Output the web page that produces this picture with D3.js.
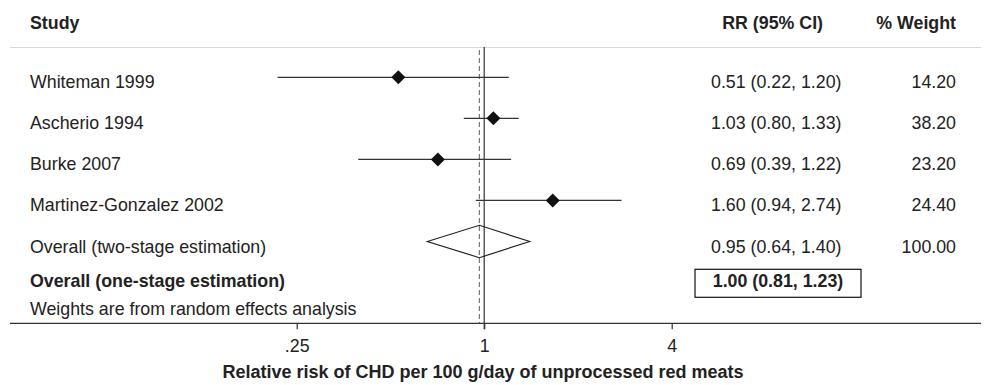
<!DOCTYPE html>
<html>
<head>
<meta charset="utf-8">
<script src="https://cdn.jsdelivr.net/npm/d3@7"></script>
<style>
  body { margin: 0; background: #fff; }
  svg text { font-family: "Liberation Sans", Arial, Helvetica, sans-serif; fill: #222; }
</style>
</head>
<body>
<svg id="chart"></svg>
<script>
const studies = ["Whiteman 1999", "Ascherio 1994", "Burke 2007", "Martinez-Gonzalez 2002"];
const rrText = ["0.51 (0.22, 1.20)", "1.03 (0.80, 1.33)", "0.69 (0.39, 1.22)", "1.60 (0.94, 2.74)"];
const weightText = ["14.20", "38.20", "23.20", "24.40"];
// plotted positions
const estimate = [0.53, 1.07, 0.71, 1.66];
const lower = [0.217, 0.86, 0.394, 0.94];
const upper = [1.20, 1.29, 1.22, 2.76];

const pooledLabel = "Overall (two-stage estimation)";
const pooledText = "0.95 (0.64, 1.40)";
const pooledWeight = "100.00";
const pooled = { est: 0.965, lo: 0.657, hi: 1.40 };

const oneStageLabel = "Overall (one-stage estimation)";
const oneStageText = "1.00 (0.81, 1.23)";

const tickValues = [0.25, 1, 4];
const tickLabels = [".25", "1", "4"];

const width = 984, height = 385;
const svg = d3.select("#chart").attr("width", width).attr("height", height);

const x = d3.scaleLog().base(2).domain([0.25, 4]).range([296.7, 671.7]);
const rows = studies.concat([pooledLabel]);
const y = d3.scalePoint().domain(rows).range([77.3, 241.5]);

const fs = "17.8px";
const axisY = 323.3;

// header
svg.append("text").attr("x", 30).attr("y", 29.3).attr("font-size", fs).attr("font-weight", "bold").text("Study");
svg.append("text").attr("x", 823).attr("y", 29.3).attr("text-anchor", "end").attr("font-size", fs).attr("font-weight", "bold").text("RR (95% CI)");
svg.append("text").attr("x", 956).attr("y", 29.3).attr("text-anchor", "end").attr("font-size", fs).attr("font-weight", "bold").text("% Weight");
svg.append("line").attr("x1", 10).attr("x2", 981).attr("y1", 47.5).attr("y2", 47.5)
  .attr("stroke", "#d8d8d8").attr("stroke-width", 1.2);

// reference lines
svg.append("line").attr("x1", x(1)).attr("x2", x(1)).attr("y1", 47).attr("y2", axisY + 6)
  .attr("stroke", "#333").attr("stroke-width", 1.2);
svg.append("line").attr("x1", x(pooled.est)).attr("x2", x(pooled.est)).attr("y1", 50).attr("y2", axisY)
  .attr("stroke", "#777").attr("stroke-width", 1.2).attr("stroke-dasharray", "5,3");

// study rows
const row = svg.selectAll("g.study").data(studies).enter().append("g").attr("class", "study");
row.append("line")
  .attr("x1", (d, i) => x(lower[i])).attr("x2", (d, i) => x(upper[i]))
  .attr("y1", d => y(d)).attr("y2", d => y(d))
  .attr("stroke", "#333").attr("stroke-width", 1.2);
row.append("path")
  .attr("d", (d, i) => {
    const cx = x(estimate[i]), cy = y(d), r = 7;
    return `M${cx - r},${cy}L${cx},${cy - r}L${cx + r},${cy}L${cx},${cy + r}Z`;
  })
  .attr("fill", "#111");
row.append("text").attr("x", 30).attr("y", d => y(d) + 11).attr("font-size", fs).text(d => d);
row.append("text").attr("x", 711).attr("y", d => y(d) + 11).attr("font-size", fs).text((d, i) => rrText[i]);
row.append("text").attr("x", 956).attr("y", d => y(d) + 11).attr("text-anchor", "end").attr("font-size", fs).text((d, i) => weightText[i]);

// pooled two-stage
const py = y(pooledLabel);
svg.append("path")
  .attr("d", `M${x(pooled.lo)},${py}L${x(pooled.est)},${py - 16.2}L${x(pooled.hi)},${py}L${x(pooled.est)},${py + 16.2}Z`)
  .attr("fill", "none").attr("stroke", "#222").attr("stroke-width", 1.2);
svg.append("text").attr("x", 30).attr("y", py + 11).attr("font-size", fs).text(pooledLabel);
svg.append("text").attr("x", 711).attr("y", py + 11).attr("font-size", fs).text(pooledText);
svg.append("text").attr("x", 956).attr("y", py + 11).attr("text-anchor", "end").attr("font-size", fs).text(pooledWeight);

// one-stage
svg.append("text").attr("x", 30).attr("y", 287.3).attr("font-size", fs).attr("font-weight", "bold").text(oneStageLabel);
svg.append("rect").attr("x", 695).attr("y", 269.3).attr("width", 166).attr("height", 28)
  .attr("fill", "none").attr("stroke", "#111").attr("stroke-width", 1.2);
svg.append("text").attr("x", 778).attr("y", 287.3).attr("text-anchor", "middle").attr("font-size", fs).attr("font-weight", "bold").text(oneStageText);

svg.append("text").attr("x", 30).attr("y", 315).attr("font-size", fs).text("Weights are from random effects analysis");

// axis
svg.append("line").attr("x1", 10).attr("x2", 981).attr("y1", axisY).attr("y2", axisY)
  .attr("stroke", "#333").attr("stroke-width", 1.2);
const axis = svg.append("g").attr("transform", `translate(0,${axisY})`)
  .call(d3.axisBottom(x).tickValues(tickValues).tickSize(6).tickFormat((d, i) => tickLabels[i]));
axis.select(".domain").remove();
axis.selectAll(".tick line").attr("stroke", "#333").attr("stroke-width", 1.2);
axis.selectAll(".tick text").attr("y", 28.4).attr("dy", null).attr("font-size", fs)
  .attr("font-family", null).attr("fill", "#222");

svg.append("text").attr("x", 483).attr("y", 378.3).attr("text-anchor", "middle")
  .attr("font-size", "18px").attr("font-weight", "bold")
  .text("Relative risk of CHD per 100 g/day of unprocessed red meats");
</script>
</body>
</html>
